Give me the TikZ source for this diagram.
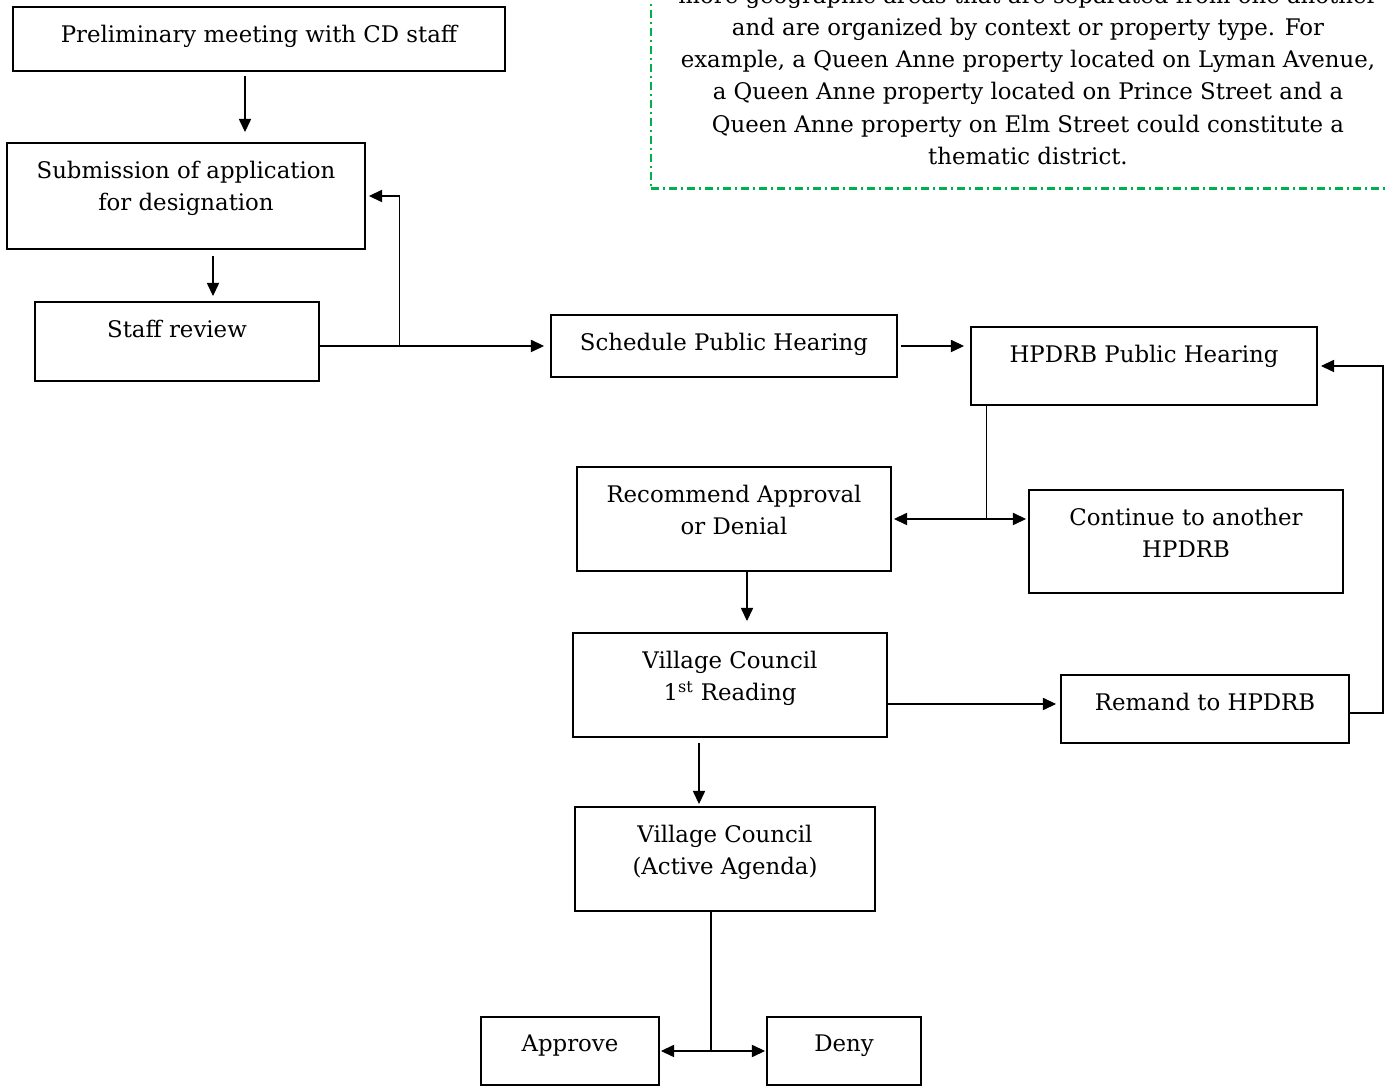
\documentclass[tikz,border=0pt]{standalone}
\usepackage{fontspec}
\setmainfont{DejaVu Serif}
\usetikzlibrary{arrows.meta,positioning,calc}
\definecolor{notegreen}{HTML}{00B050}

\begin{document}
\begin{tikzpicture}[>={Triangle[length=7.5pt,width=7pt]},font=\fontsize{13}{18.3}\selectfont]
\tikzstyle{b}=[draw,line width=1.1pt,inner sep=0pt]
\tikzstyle{t}=[anchor=north,align=center,inner sep=0pt,yshift=-0.37cm]
\tikzstyle{c}=[line width=0.6pt]
\clip (0,0) rectangle (27.76,21.82);
% note box, cut by the page edge
\node[draw=notegreen,line width=1.6pt,dash pattern=on 0.16cm off 0.08cm on 0.04cm off 0.08cm,align=center,minimum width=15.08cm,inner ysep=0.48cm,anchor=south] (note) at (20.56,18.02) {more geographic areas that are separated from one another\\ and are organized by context or property type. For\\ example, a Queen Anne property located on Lyman Avenue,\\ a Queen Anne property located on Prince Street and a\\ Queen Anne property on Elm Street could constitute a\\ thematic district.};
% stages
\node[b,minimum width=9.84cm,minimum height=1.28cm,label={[t]north:Preliminary meeting with CD staff}] (prelim) at (5.18,21.04) {};
\node[b,minimum width=7.16cm,minimum height=2.12cm,label={[t]north:{Submission of application\\ for designation}}] (submit) at (3.72,17.90) {};
\node[b,minimum width=5.68cm,minimum height=1.58cm,label={[t]north:Staff review}] (staff) at (3.54,14.99) {};
\node[b,minimum width=6.92cm,minimum height=1.24cm,label={[t]north:Schedule Public Hearing}] (sched) at (14.48,14.90) {};
\node[b,minimum width=6.92cm,minimum height=1.56cm,label={[t]north:HPDRB Public Hearing}] (hear) at (22.88,14.50) {};
\node[b,minimum width=6.28cm,minimum height=2.08cm,label={[t]north:{Recommend Approval\\ or Denial}}] (recom) at (14.68,11.44) {};
\node[b,minimum width=6.28cm,minimum height=2.06cm,label={[t]north:{Continue to another\\ HPDRB}}] (cont) at (23.72,10.99) {};
\node[b,minimum width=6.28cm,minimum height=2.08cm,label={[t]north:{Village Council\\ 1\textsuperscript{st} Reading}}] (read) at (14.60,8.12) {};
\node[b,minimum width=5.76cm,minimum height=1.36cm,label={[t]north:Remand to HPDRB}] (remand) at (24.10,7.64) {};
\node[b,minimum width=6.00cm,minimum height=2.08cm,label={[t]north:{Village Council\\ (Active Agenda)}}] (agenda) at (14.50,4.64) {};
\node[b,minimum width=3.56cm,minimum height=1.36cm,label={[t]north:Approve}] (approve) at (11.40,0.80) {};
\node[b,minimum width=3.08cm,minimum height=1.36cm,label={[t]north:Deny}] (deny) at (16.88,0.80) {};
% connectors
\coordinate (p1) at ([xshift=-2.8mm]prelim.south);
\draw[c,->,shorten <=0.8mm,shorten >=2mm] (p1) -- (p1 |- submit.north);
\coordinate (s1) at ([xshift=5.4mm]submit.south);
\draw[c,->,shorten <=1.2mm,shorten >=1mm] (s1) -- (s1 |- staff.north);
\draw[c,->,shorten >=1.2mm] (sched.west -| staff.east) -- (sched.west);
\coordinate (fork) at ([xshift=-3.02cm]sched.west);
\draw[c,->,shorten >=0.6mm] (fork) |- (submit.east);
\draw[c,->,shorten <=0.6mm,shorten >=1.2mm] (sched.east) -- (sched.east -| hear.west);
\coordinate (h1) at ([xshift=3.2mm]hear.south west);
\draw[c] (h1) -- (h1 |- recom.east);
\draw[c,<->,shorten <=0.4mm,shorten >=0.4mm] (recom.east) -- (recom.east -| cont.west);
\coordinate (r1) at ([xshift=2.6mm]recom.south);
\draw[c,->,shorten >=2.2mm] (r1) -- (r1 |- read.north);
\coordinate (m1) at ([yshift=1mm]remand.west);
\draw[c,->,shorten >=0.8mm] (m1 -| read.east) -- (m1);
\draw[c,->,shorten >=0.6mm] ([yshift=-0.8mm]remand.east) -- ++(0.66,0) |- (hear.east);
\coordinate (v1) at ([xshift=-6.2mm]read.south);
\draw[c,->,shorten <=1mm,shorten >=0.4mm] (v1) -- (v1 |- agenda.north);
\coordinate (a1) at ([xshift=-2.8mm]agenda.south);
\draw[c] (a1) -- (a1 |- approve.east);
\draw[c,<->,shorten <=0.2mm,shorten >=0.2mm] (approve.east) -- (deny.west);
\end{tikzpicture}
\end{document}
